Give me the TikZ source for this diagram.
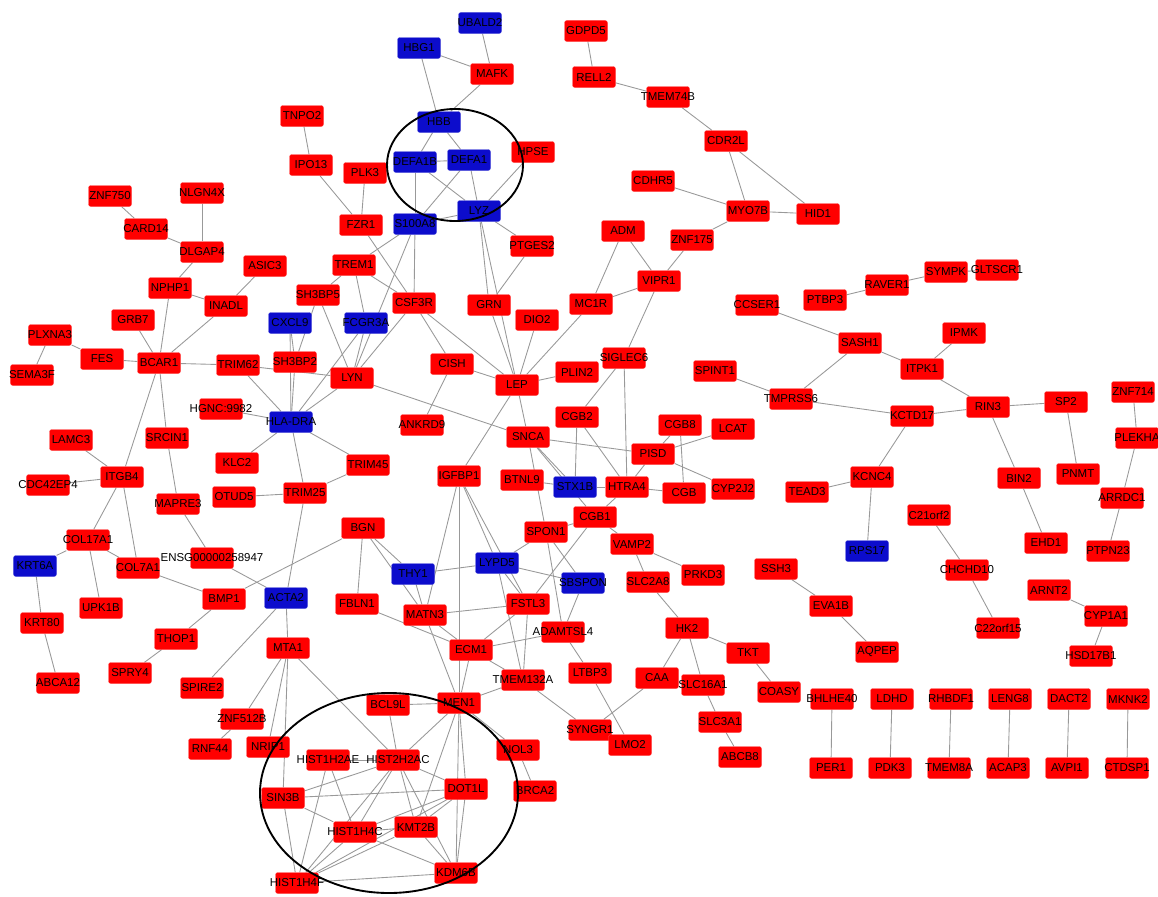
\documentclass[tikz,border=0pt]{standalone}
\usepackage{fontspec}
\newfontfamily\genefont{Liberation Sans}
\usetikzlibrary{backgrounds}
\definecolor{genered}{RGB}{255,0,0}
\definecolor{geneblue}{RGB}{12,12,204}
% label that may run past its box, as in the source figure
\newcommand\gn[1]{\hbox to 0pt{\hss#1\hss}}

\begin{document}
\begin{tikzpicture}[
    x=0.03cm, y=-0.03cm,
    gene/.style={rectangle, rounded corners=2pt, fill=genered, draw=genered!70!white,
      line width=0.3pt, minimum width=1.29cm, minimum height=0.63cm, inner sep=0pt,
      font=\genefont\fontsize{9.8}{11}\selectfont},
    hub/.style={gene, fill=geneblue, draw=geneblue!70!white},
    link/.style={draw=gray!80, line width=0.75pt},
    ring/.style={draw=black, line width=1.6pt}
  ]
  \useasboundingbox (0,0) rectangle (1158,896);

  % Left cluster
  \node[gene] (ZNF750) at (110,196) {\gn{ZNF750}};
  \node[gene] (NLGN4X) at (202,193) {\gn{NLGN4X}};
  \node[gene] (CARD14) at (146,229) {\gn{CARD14}};
  \node[gene] (DLGAP4) at (202,252) {\gn{DLGAP4}};
  \node[gene] (ASIC3) at (265,266) {\gn{ASIC3}};
  \node[gene] (NPHP1) at (170,288) {\gn{NPHP1}};
  \node[gene] (INADL) at (226,306) {\gn{INADL}};
  \node[gene] (GRB7) at (133,320) {\gn{GRB7}};
  \node[gene] (PLXNA3) at (50,335) {\gn{PLXNA3}};
  \node[gene] (FES) at (102,359) {\gn{FES}};
  \node[gene] (BCAR1) at (159,363) {\gn{BCAR1}};
  \node[gene] (SEMA3F) at (32,375) {\gn{SEMA3F}};
  \node[gene] (TRIM62) at (238,365) {\gn{TRIM62}};
  \node[gene] (HGNC9982) at (221,409) {\gn{HGNC:9982}};
  \node[gene] (LAMC3) at (71,440) {\gn{LAMC3}};
  \node[gene] (SRCIN1) at (167,438) {\gn{SRCIN1}};
  \node[gene] (KLC2) at (237,463) {\gn{KLC2}};
  \node[gene] (ITGB4) at (122,477) {\gn{ITGB4}};
  \node[gene] (CDC42EP4) at (48,485) {\gn{CDC42EP4}};
  \node[gene] (OTUD5) at (234,497) {\gn{OTUD5}};
  \node[gene] (MAPRE3) at (178,504) {\gn{MAPRE3}};
  \node[gene] (COL17A1) at (88,540) {\gn{COL17A1}};
  \node[gene] (ENSG) at (212,558) {\gn{ENSG00000258947}};
  \node[hub] (KRT6A) at (35,566) {\gn{KRT6A}};
  \node[gene] (COL7A1) at (138,568) {\gn{COL7A1}};
  \node[gene] (BMP1) at (224,599) {\gn{BMP1}};
  \node[gene] (UPK1B) at (101,608) {\gn{UPK1B}};
  \node[gene] (KRT80) at (42,623) {\gn{KRT80}};
  \node[gene] (THOP1) at (176,639) {\gn{THOP1}};
  \node[gene] (SPRY4) at (130,673) {\gn{SPRY4}};
  \node[gene] (ABCA12) at (58,683) {\gn{ABCA12}};
  \node[gene] (SPIRE2) at (202,688) {\gn{SPIRE2}};

  % Upper middle
  \node[hub] (UBALD2) at (480,23) {\gn{UBALD2}};
  \node[hub] (HBG1) at (419,48) {\gn{HBG1}};
  \node[gene] (MAFK) at (492,74) {\gn{MAFK}};
  \node[gene] (TNPO2) at (302,116) {\gn{TNPO2}};
  \node[hub] (HBB) at (439,122) {\gn{HBB}};
  \node[hub] (DEFA1B) at (415,162) {\gn{DEFA1B}};
  \node[hub] (DEFA1) at (469,160) {\gn{DEFA1}};
  \node[gene] (HPSE) at (533,152) {\gn{HPSE}};
  \node[gene] (IPO13) at (311,165) {\gn{IPO13}};
  \node[gene] (PLK3) at (365,173) {\gn{PLK3}};
  \node[hub] (LYZ) at (479,211) {\gn{LYZ}};
  \node[gene] (FZR1) at (361,225) {\gn{FZR1}};
  \node[hub] (S100A8) at (415,224) {\gn{S100A8}};
  \node[gene] (PTGES2) at (532,246) {\gn{PTGES2}};
  \node[gene] (TREM1) at (354,265) {\gn{TREM1}};
  \node[gene] (SH3BP5) at (318,295) {\gn{SH3BP5}};
  \node[gene] (CSF3R) at (414,303) {\gn{CSF3R}};
  \node[gene] (GRN) at (489,305) {\gn{GRN}};
  \node[gene] (DIO2) at (537,320) {\gn{DIO2}};
  \node[hub] (CXCL9) at (290,323) {\gn{CXCL9}};
  \node[hub] (FCGR3A) at (366,323) {\gn{FCGR3A}};
  \node[gene] (SH3BP2) at (295,362) {\gn{SH3BP2}};
  \node[gene] (CISH) at (452,364) {\gn{CISH}};
  \node[gene] (LYN) at (352,378) {\gn{LYN}};
  \node[gene] (LEP) at (517,385) {\gn{LEP}};
  \node[hub] (HLADRA) at (291,422) {\gn{HLA-DRA}};
  \node[gene] (ANKRD9) at (422,425) {\gn{ANKRD9}};
  \node[gene] (SNCA) at (528,437) {\gn{SNCA}};
  \node[gene] (TRIM45) at (368,465) {\gn{TRIM45}};
  \node[gene] (IGFBP1) at (459,476) {\gn{IGFBP1}};
  \node[gene] (BTNL9) at (522,480) {\gn{BTNL9}};
  \node[gene] (TRIM25) at (305,493) {\gn{TRIM25}};

  % Lower middle
  \node[gene] (BGN) at (363,528) {\gn{BGN}};
  \node[gene] (SPON1) at (546,532) {\gn{SPON1}};
  \node[hub] (LYPD5) at (497,563) {\gn{LYPD5}};
  \node[hub] (THY1) at (413,574) {\gn{THY1}};
  \node[hub] (ACTA2) at (286,598) {\gn{ACTA2}};
  \node[gene] (FBLN1) at (357,604) {\gn{FBLN1}};
  \node[gene] (FSTL3) at (528,604) {\gn{FSTL3}};
  \node[gene] (MATN3) at (425,615) {\gn{MATN3}};
  \node[gene] (MTA1) at (288,648) {\gn{MTA1}};
  \node[gene] (ECM1) at (471,650) {\gn{ECM1}};
  \node[gene] (ADAMTSL4) at (563,632) {\gn{ADAMTSL4}};
  \node[gene] (TMEM132A) at (523,680) {\gn{TMEM132A}};
  \node[gene] (MEN1) at (459,703) {\gn{MEN1}};
  \node[gene] (BCL9L) at (388,705) {\gn{BCL9L}};
  \node[gene] (ZNF512B) at (242,719) {\gn{ZNF512B}};
  \node[gene] (RNF44) at (210,749) {\gn{RNF44}};
  \node[gene] (NRIP1) at (268,747) {\gn{NRIP1}};
  \node[gene] (HIST1H2AE) at (328,760) {\gn{HIST1H2AE}};
  \node[gene] (HIST2H2AC) at (398,760) {\gn{HIST2H2AC}};
  \node[gene] (NOL3) at (518,750) {\gn{NOL3}};
  \node[gene] (SIN3B) at (283,798) {\gn{SIN3B}};
  \node[gene] (DOT1L) at (466,789) {\gn{DOT1L}};
  \node[gene] (BRCA2) at (535,791) {\gn{BRCA2}};
  \node[gene] (KMT2B) at (416,827) {\gn{KMT2B}};
  \node[gene] (HIST1H4C) at (355,832) {\gn{HIST1H4C}};
  \node[gene] (KDM6B) at (456,873) {\gn{KDM6B}};
  \node[gene] (HIST1H4F) at (297,883) {\gn{HIST1H4F}};

  % Right side
  \node[gene] (GDPD5) at (586,31) {\gn{GDPD5}};
  \node[gene] (RELL2) at (594,77) {\gn{RELL2}};
  \node[gene] (TMEM74B) at (668,97) {\gn{TMEM74B}};
  \node[gene] (CDR2L) at (726,141) {\gn{CDR2L}};
  \node[gene] (CDHR5) at (653,181) {\gn{CDHR5}};
  \node[gene] (MYO7B) at (748,211) {\gn{MYO7B}};
  \node[gene] (HID1) at (818,214) {\gn{HID1}};
  \node[gene] (ADM) at (623,231) {\gn{ADM}};
  \node[gene] (ZNF175) at (692,240) {\gn{ZNF175}};
  \node[gene] (VIPR1) at (659,281) {\gn{VIPR1}};
  \node[gene] (GLTSCR1) at (997,270) {\gn{GLTSCR1}};
  \node[gene] (SYMPK) at (946,272) {\gn{SYMPK}};
  \node[gene] (RAVER1) at (887,285) {\gn{RAVER1}};
  \node[gene] (PTBP3) at (825,300) {\gn{PTBP3}};
  \node[gene] (MC1R) at (591,304) {\gn{MC1R}};
  \node[gene] (CCSER1) at (757,305) {\gn{CCSER1}};
  \node[gene] (IPMK) at (964,333) {\gn{IPMK}};
  \node[gene] (SASH1) at (860,343) {\gn{SASH1}};
  \node[gene] (SIGLEC6) at (624,358) {\gn{SIGLEC6}};
  \node[gene] (SPINT1) at (715,371) {\gn{SPINT1}};
  \node[gene] (PLIN2) at (577,372) {\gn{PLIN2}};
  \node[gene] (ITPK1) at (922,369) {\gn{ITPK1}};
  \node[gene] (ZNF714) at (1133,392) {\gn{ZNF714}};
  \node[gene] (TMPRSS6) at (791,399) {\gn{TMPRSS6}};
  \node[gene] (SP2) at (1066,402) {\gn{SP2}};
  \node[gene] (RIN3) at (988,407) {\gn{RIN3}};
  \node[gene] (KCTD17) at (912,416) {\gn{KCTD17}};
  \node[gene] (CGB2) at (577,417) {\gn{CGB2}};
  \node[gene] (CGB8) at (680,425) {\gn{CGB8}};
  \node[gene] (LCAT) at (733,429) {\gn{LCAT}};
  \node[gene] (PLEKHA) at (1137,438) {\gn{PLEKHA}};
  \node[gene] (PISD) at (653,454) {\gn{PISD}};
  \node[gene] (PNMT) at (1078,474) {\gn{PNMT}};
  \node[gene] (KCNC4) at (872,477) {\gn{KCNC4}};
  \node[gene] (BIN2) at (1019,478) {\gn{BIN2}};
  \node[hub] (STX1B) at (575,487) {\gn{STX1B}};
  \node[gene] (HTRA4) at (627,487) {\gn{HTRA4}};
  \node[gene] (CGB) at (684,493) {\gn{CGB}};
  \node[gene] (CYP2J2) at (733,489) {\gn{CYP2J2}};
  \node[gene] (TEAD3) at (807,492) {\gn{TEAD3}};
  \node[gene] (ARRDC1) at (1122,498) {\gn{ARRDC1}};
  \node[gene] (C21orf2) at (929,515) {\gn{C21orf2}};
  \node[gene] (CGB1) at (595,517) {\gn{CGB1}};
  \node[gene] (EHD1) at (1046,543) {\gn{EHD1}};
  \node[gene] (VAMP2) at (632,544) {\gn{VAMP2}};
  \node[hub] (RPS17) at (867,551) {\gn{RPS17}};
  \node[gene] (PTPN23) at (1108,551) {\gn{PTPN23}};
  \node[gene] (SSH3) at (776,569) {\gn{SSH3}};
  \node[gene] (CHCHD10) at (967,570) {\gn{CHCHD10}};
  \node[gene] (PRKD3) at (703,575) {\gn{PRKD3}};
  \node[hub] (SBSPON) at (583,583) {\gn{SBSPON}};
  \node[gene] (SLC2A8) at (648,582) {\gn{SLC2A8}};
  \node[gene] (ARNT2) at (1049,590) {\gn{ARNT2}};
  \node[gene] (EVA1B) at (831,606) {\gn{EVA1B}};
  \node[gene] (CYP1A1) at (1106,616) {\gn{CYP1A1}};
  \node[gene] (HK2) at (687,628) {\gn{HK2}};
  \node[gene] (C22orf15) at (998,628) {\gn{C22orf15}};
  \node[gene] (TKT) at (748,653) {\gn{TKT}};
  \node[gene] (AQPEP) at (877,652) {\gn{AQPEP}};
  \node[gene] (HSD17B1) at (1091,656) {\gn{HSD17B1}};
  \node[gene] (LTBP3) at (590,673) {\gn{LTBP3}};
  \node[gene] (CAA) at (657,678) {\gn{CAA}};
  \node[gene] (SLC16A1) at (703,685) {\gn{SLC16A1}};
  \node[gene] (COASY) at (779,692) {\gn{COASY}};
  \node[gene] (SLC3A1) at (720,722) {\gn{SLC3A1}};
  \node[gene] (SYNGR1) at (590,730) {\gn{SYNGR1}};
  \node[gene] (LMO2) at (630,745) {\gn{LMO2}};
  \node[gene] (ABCB8) at (740,757) {\gn{ABCB8}};

  % Pairs in the lower right
  \node[gene] (BHLHE40) at (832,699) {\gn{BHLHE40}};
  \node[gene] (LDHD) at (892,699) {\gn{LDHD}};
  \node[gene] (RHBDF1) at (951,699) {\gn{RHBDF1}};
  \node[gene] (LENG8) at (1010,699) {\gn{LENG8}};
  \node[gene] (DACT2) at (1069,699) {\gn{DACT2}};
  \node[gene] (MKNK2) at (1128,699) {\gn{MKNK2}};
  \node[gene] (PER1) at (831,768) {\gn{PER1}};
  \node[gene] (PDK3) at (890,768) {\gn{PDK3}};
  \node[gene] (TMEM8A) at (949,768) {\gn{TMEM8A}};
  \node[gene] (ACAP3) at (1008,768) {\gn{ACAP3}};
  \node[gene] (AVPI1) at (1067,768) {\gn{AVPI1}};
  \node[gene] (CTDSP1) at (1127,768) {\gn{CTDSP1}};

  % Interactions
  \begin{scope}[on background layer]
    \foreach \a/\b in {ZNF750/CARD14, CARD14/DLGAP4, NLGN4X/DLGAP4, DLGAP4/NPHP1,
        NPHP1/INADL, ASIC3/INADL, NPHP1/BCAR1, INADL/BCAR1, GRB7/BCAR1, PLXNA3/FES,
        PLXNA3/SEMA3F, FES/BCAR1, BCAR1/TRIM62, BCAR1/ITGB4, BCAR1/SRCIN1, TRIM62/LYN,
        TRIM62/HLADRA, HGNC9982/HLADRA, HLADRA/KLC2, LAMC3/ITGB4, CDC42EP4/ITGB4,
        ITGB4/COL17A1, ITGB4/COL7A1, SRCIN1/MAPRE3, MAPRE3/ENSG, ENSG/ACTA2,
        COL17A1/KRT6A, COL17A1/COL7A1, COL17A1/UPK1B, COL7A1/BMP1, BMP1/THOP1,
        THOP1/SPRY4, KRT6A/KRT80, KRT80/ABCA12, BMP1/BGN, ACTA2/SPIRE2, ACTA2/MTA1,
        OTUD5/TRIM25, HLADRA/TRIM25, TRIM25/ACTA2, HLADRA/TRIM45, TRIM45/TRIM25}
      \draw[link] (\a) -- (\b);
    \foreach \a/\b in {UBALD2/MAFK, HBG1/MAFK, HBG1/HBB, MAFK/HBB, HBB/DEFA1B,
        HBB/DEFA1, DEFA1B/DEFA1, DEFA1B/LYZ, DEFA1B/S100A8, DEFA1/S100A8, DEFA1/LYZ,
        HPSE/LYZ, LYZ/S100A8, LYZ/PTGES2, LYZ/GRN, LYZ/LEP, PTGES2/GRN, TNPO2/IPO13,
        IPO13/FZR1, PLK3/FZR1, FZR1/CSF3R, S100A8/CSF3R, S100A8/TREM1, S100A8/LYN,
        TREM1/SH3BP5, TREM1/CSF3R, TREM1/FCGR3A, SH3BP5/SH3BP2, SH3BP5/LYN,
        CXCL9/SH3BP2, CXCL9/HLADRA, SH3BP2/HLADRA, FCGR3A/LYN, FCGR3A/HLADRA,
        LYN/HLADRA, CSF3R/LYN, CSF3R/CISH, CSF3R/LEP, CISH/LEP, CISH/ANKRD9, GRN/LEP,
        DIO2/LEP, MC1R/LEP, LEP/PLIN2, LEP/SNCA, LEP/IGFBP1, LYN/SNCA}
      \draw[link] (\a) -- (\b);
    \foreach \a/\b in {SIGLEC6/VIPR1, SIGLEC6/CGB2, SIGLEC6/HTRA4, SNCA/PISD,
        SNCA/STX1B, SNCA/CGB1, SNCA/SPON1, BTNL9/STX1B, STX1B/HTRA4, CGB2/STX1B,
        CGB2/HTRA4, HTRA4/PISD, HTRA4/CGB, HTRA4/CGB1, PISD/CGB8, PISD/LCAT,
        PISD/CYP2J2, CGB8/CGB, CGB1/SPON1, CGB1/VAMP2, CGB1/FSTL3, VAMP2/PRKD3,
        VAMP2/SLC2A8, SPON1/LYPD5, SPON1/SBSPON, SPON1/ADAMTSL4, IGFBP1/MATN3,
        IGFBP1/MEN1, IGFBP1/LYPD5, IGFBP1/FSTL3}
      \draw[link] (\a) -- (\b);
    \foreach \a/\b in {BGN/FBLN1, BGN/THY1, BGN/MATN3, THY1/LYPD5, THY1/MATN3,
        LYPD5/FSTL3, LYPD5/SBSPON, LYPD5/TMEM132A, MATN3/FSTL3, MATN3/ECM1,
        MATN3/MEN1, FBLN1/ECM1, FSTL3/ECM1, FSTL3/TMEM132A, SBSPON/ADAMTSL4,
        ECM1/ADAMTSL4, ECM1/MEN1, ECM1/TMEM132A, TMEM132A/MEN1, TMEM132A/SYNGR1,
        ADAMTSL4/LTBP3, LTBP3/LMO2, CAA/SYNGR1, SLC2A8/HK2, HK2/TKT, HK2/CAA,
        HK2/SLC16A1, TKT/COASY, SLC16A1/SLC3A1, SLC3A1/ABCB8}
      \draw[link] (\a) -- (\b);
    \foreach \a/\b in {MEN1/BCL9L, MEN1/HIST2H2AC, MEN1/DOT1L, MEN1/KMT2B,
        MEN1/KDM6B, MEN1/NOL3, NOL3/BRCA2, MTA1/ZNF512B, ZNF512B/RNF44, MTA1/NRIP1,
        MTA1/SIN3B, MTA1/HIST2H2AC, BCL9L/HIST2H2AC, HIST1H2AE/HIST2H2AC,
        HIST2H2AC/SIN3B, HIST1H2AE/HIST1H4C, HIST1H2AE/HIST1H4F, HIST2H2AC/HIST1H4C,
        HIST2H2AC/KMT2B, HIST2H2AC/DOT1L, HIST2H2AC/KDM6B, HIST2H2AC/HIST1H4F,
        SIN3B/HIST1H4C, SIN3B/DOT1L, SIN3B/HIST1H4F, HIST1H4C/KMT2B, HIST1H4C/DOT1L,
        HIST1H4C/HIST1H4F, KMT2B/DOT1L, KMT2B/KDM6B, KMT2B/HIST1H4F, DOT1L/KDM6B,
        DOT1L/HIST1H4F, HIST1H4F/KDM6B, HIST1H4C/KDM6B}
      \draw[link] (\a) -- (\b);
    \foreach \a/\b in {GDPD5/RELL2, RELL2/TMEM74B, TMEM74B/CDR2L, CDR2L/MYO7B,
        CDR2L/HID1, CDHR5/MYO7B, MYO7B/HID1, MYO7B/ZNF175, ZNF175/VIPR1, ADM/VIPR1,
        ADM/MC1R, VIPR1/MC1R, PTBP3/RAVER1, RAVER1/SYMPK, SYMPK/GLTSCR1,
        CCSER1/SASH1, SASH1/TMPRSS6, SASH1/ITPK1, ITPK1/IPMK, ITPK1/RIN3,
        SPINT1/TMPRSS6, TMPRSS6/KCTD17, KCTD17/RIN3, RIN3/SP2, RIN3/BIN2, SP2/PNMT,
        KCTD17/KCNC4, KCNC4/TEAD3, KCNC4/RPS17, BIN2/EHD1, ZNF714/PLEKHA,
        PLEKHA/ARRDC1, ARRDC1/PTPN23, C21orf2/CHCHD10, CHCHD10/C22orf15,
        ARNT2/CYP1A1, CYP1A1/HSD17B1, SSH3/EVA1B, EVA1B/AQPEP, BHLHE40/PER1,
        LDHD/PDK3, RHBDF1/TMEM8A, LENG8/ACAP3, DACT2/AVPI1, MKNK2/CTDSP1}
      \draw[link] (\a) -- (\b);
  \end{scope}

  % Highlighted modules
  \draw[ring] (455,165) ellipse (2.04cm and 1.68cm);
  \draw[ring] (389,793) ellipse (3.87cm and 3.0cm);
\end{tikzpicture}
\end{document}
